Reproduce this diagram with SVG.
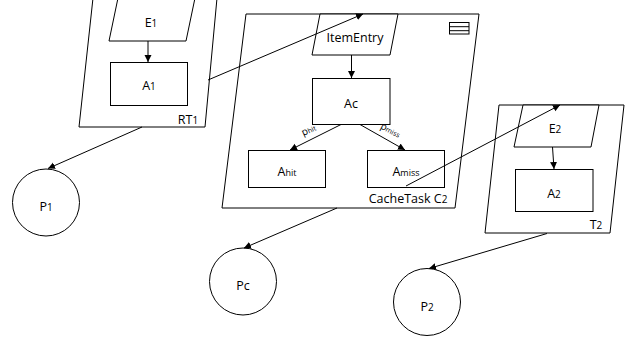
<svg xmlns="http://www.w3.org/2000/svg" width="641" height="343" viewBox="0 0 641 343">
<style>
.s{fill:#fff;stroke:#000;stroke-width:1}
.t{font-family:"Open Sans","Noto Sans",sans-serif;font-size:12.5px;fill:#000;text-anchor:middle}
.sub{font-size:10px}
.c{fill:none;stroke:#000;stroke-width:1}
</style>
<defs>
<marker id="ah" markerWidth="8" markerHeight="8" refX="7" refY="3.5" orient="auto" markerUnits="userSpaceOnUse">
<path d="M0,0 L7,3.5 L0,7 Z" fill="#000"/>
</marker>
</defs>
<rect width="641" height="343" fill="#fff"/>
<g id="RT1">
<polygon class="s" points="93,-2 217,-2 205,127 79,127"/>
<text class="t" x="188" y="124">RT<tspan class="sub">1</tspan></text>
</g>
<g id="E1">
<polygon class="s" points="118,-2 195,-2 186,41 109,41"/>
<text class="t" x="151" y="27">E<tspan class="sub">1</tspan></text>
</g>
<g id="A1">
<rect class="s" x="110.5" y="62.5" width="77" height="43"/>
<text class="t" x="149" y="90">A<tspan class="sub">1</tspan></text>
</g>
<g id="C2">
<polygon class="s" points="246,14 479,14 455,208 222,208"/>
<text class="t" x="408" y="203">CacheTask C<tspan class="sub">2</tspan></text>
<rect x="449.5" y="22.5" width="19.5" height="11.5" fill="none" stroke="#000"/>
<line x1="449.5" y1="26.7" x2="469" y2="26.7" stroke="#000"/>
<line x1="449.5" y1="30.7" x2="469" y2="30.7" stroke="#000"/>
</g>
<g id="ItemEntry">
<polygon class="s" points="320,14 398,14 390,55 312,55"/>
<text class="t" x="355" y="42">ItemEntry</text>
</g>
<g id="Ac">
<rect class="s" x="312.5" y="78.5" width="77.5" height="46"/>
<text class="t" x="351" y="108">Ac</text>
</g>
<g id="Ahit">
<rect class="s" x="248.5" y="150.5" width="77" height="37"/>
<text class="t" x="287" y="176">A<tspan style="font-size:9px">hit</tspan></text>
</g>
<g id="Amiss">
<rect class="s" x="367.5" y="150.5" width="77" height="37"/>
<text class="t" x="406" y="176">A<tspan style="font-size:9px">miss</tspan></text>
</g>
<g id="T2">
<polygon class="s" points="499,105 624,105 610,233 485,233"/>
<text class="t" x="596" y="229">T<tspan class="sub">2</tspan></text>
</g>
<g id="E2">
<polygon class="s" points="523,105 599,105 591,147 514,147"/>
<text class="t" x="555" y="133">E<tspan class="sub">2</tspan></text>
</g>
<g id="A2">
<rect class="s" x="515.5" y="169.5" width="77.5" height="42"/>
<text class="t" x="554" y="198">A<tspan class="sub">2</tspan></text>
</g>
<g id="P1">
<circle class="s" cx="46" cy="202.5" r="33.5"/>
<text class="t" x="46" y="210.5">P<tspan class="sub">1</tspan></text>
</g>
<g id="Pc">
<circle class="s" cx="243" cy="281.5" r="33.5"/>
<text class="t" x="243" y="290">Pc</text>
</g>
<g id="P2">
<circle class="s" cx="427" cy="302" r="33.5"/>
<text class="t" x="427" y="310.5">P<tspan class="sub">2</tspan></text>
</g>
<g id="connectors">
<line class="c" x1="148" y1="41" x2="148" y2="62" marker-end="url(#ah)"/>
<line class="c" x1="351.5" y1="55" x2="351.5" y2="78" marker-end="url(#ah)"/>
<line class="c" x1="341" y1="124.5" x2="290" y2="150" marker-end="url(#ah)"/>
<line class="c" x1="360" y1="124.5" x2="405" y2="150" marker-end="url(#ah)"/>
<line class="c" x1="552.5" y1="147" x2="554" y2="169" marker-end="url(#ah)"/>
<line class="c" x1="208" y1="80" x2="363" y2="14" marker-end="url(#ah)"/>
<line class="c" x1="406" y1="186" x2="560" y2="105" marker-end="url(#ah)"/>
<line class="c" x1="142" y1="127" x2="48" y2="168.5" marker-end="url(#ah)"/>
<line class="c" x1="337" y1="208" x2="244" y2="248" marker-end="url(#ah)"/>
<line class="c" x1="547" y1="233.5" x2="429" y2="268.5" marker-end="url(#ah)"/>
<text class="t" style="font-size:10px" transform="translate(310,133) rotate(-24)" x="0" y="0">p<tspan style="font-size:7px">hit</tspan></text>
<text class="t" style="font-size:10px" transform="translate(389,133) rotate(27)" x="0" y="0">p<tspan style="font-size:7px">miss</tspan></text>
</g>
</svg>
